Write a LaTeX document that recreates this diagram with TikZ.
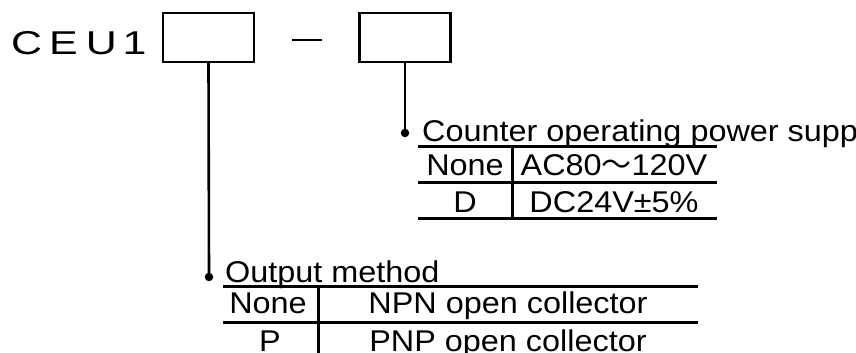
\documentclass[tikz,border=0pt]{standalone}
\usepackage{fontspec}
\setmainfont{Liberation Sans}[FakeStretch=1.08]
\newfontfamily\widefont{Liberation Sans}[FakeStretch=1.3]
\newfontfamily\cjkfont{Noto Sans CJK JP}

\begin{document}
\begin{tikzpicture}[x=1pt, y=-1pt,
    txt/.style={inner sep=0pt, font=\fontsize{30}{32}\selectfont},
    selbox/.style={draw=black, line width=2.2pt, minimum width=91pt, minimum height=49pt, inner sep=0pt},
    lead/.style={black, line width=2.6pt},
    tabrule/.style={black, line width=3pt},
    dot/.style={circle, fill=black, inner sep=0pt, minimum size=8.5pt}]
    \useasboundingbox (0,0) rectangle (856,353);
    \clip (0,0) rectangle (856,353);

    % Modelo
    \node[txt, anchor=base west, font=\widefont\fontsize{33}{35}\selectfont] (model) at (11,55) {C\hspace{7pt}E\hspace{8pt}U\hspace{6pt}1};
    \node[selbox] (sel1) at (208.5,37.5) {};
    \draw[black, line width=2.2pt] (292,40) -- (322,40);
    \node[selbox] (sel2) at (405,37.5) {};

    % Lineas
    \node[dot] (dotA) at (405,133) {};
    \node[dot] (dotB) at (209,277) {};
    \draw[lead] (sel2.south) -- (dotA.center);
    \draw[lead] (sel1.south) -- (dotB.center);

    % Alimentacion
    \node[txt, anchor=base west] (powhead) at (422,141) {Counter operating power supply};
    \draw[tabrule] (418,146) -- (717,146);
    \draw[tabrule] (418,182) -- (717,182);
    \draw[tabrule] (418,218) -- (717,218);
    \draw[tabrule] (512,146) -- (512,218);
    \node[txt, anchor=base] (powA) at (465,175) {None};
    \node[txt, anchor=base] (powAv) at (614,175) {AC80{\cjkfont ～}120V};
    \node[txt, anchor=base] (powB) at (465,212) {D};
    \node[txt, anchor=base] (powBv) at (614,212) {DC24V±5\%};

    % Salida
    \node[txt, anchor=base west] (outhead) at (225,282) {Output method};
    \draw[tabrule] (223,286) -- (698,286);
    \draw[tabrule] (223,322) -- (698,322);
    \draw[tabrule] (318,286) -- (318,360);
    \node[txt, anchor=base] (outA) at (268,313) {None};
    \node[txt, anchor=base] (outAv) at (508,313) {NPN open collector};
    \node[txt, anchor=base] (outB) at (270,351) {P};
    \node[txt, anchor=base] (outBv) at (508,351) {PNP open collector};
\end{tikzpicture}
\end{document}
